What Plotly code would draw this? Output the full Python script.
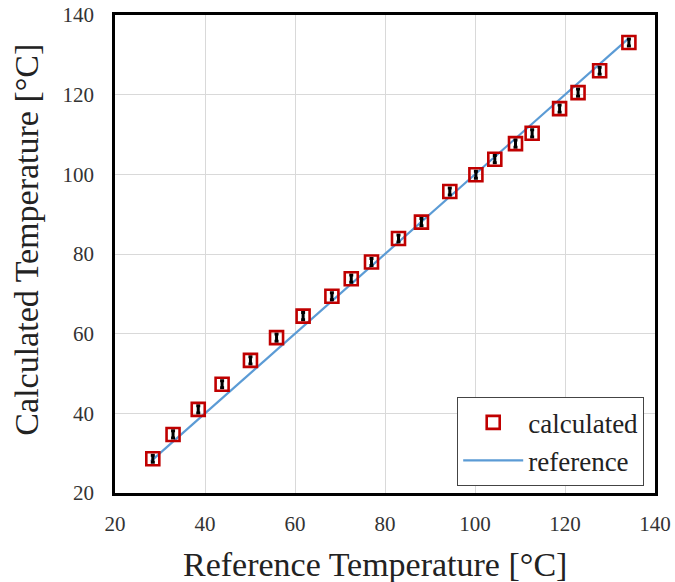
import plotly.graph_objects as go

# Reference vs. calculated temperatures (°C)
ref_temp = [28.4, 32.9, 38.5, 43.8, 50.1, 55.9, 61.8, 68.2, 72.5, 77.0, 83.0,
            88.1, 94.4, 100.2, 104.4, 109.0, 112.7, 118.8, 122.9, 127.7, 134.2]
calc_temp = [28.6, 34.7, 41.0, 47.3, 53.3, 59.0, 64.4, 69.4, 73.8, 78.0, 83.9,
             88.0, 95.7, 99.9, 103.8, 107.7, 110.3, 116.5, 120.5, 126.0, 133.1]
calc_err = [0.9] * len(ref_temp)

# Ideal y = x reference line
line_x = [28.0, 134.2]
line_y = [28.0, 134.2]

tick_vals = [20, 40, 60, 80, 100, 120, 140]

x_title = "Reference Temperature [°C]"
y_title = "Calculated Temperature [°C]"

FONT = "Liberation Serif"

fig = go.Figure()

fig.add_trace(go.Scatter(
    x=line_x, y=line_y, mode="lines", name="reference",
    line=dict(color="#5b9bd5", width=2.2),
))

fig.add_trace(go.Scatter(
    x=ref_temp, y=calc_temp, mode="markers", name="calculated",
    marker=dict(symbol="square-open", size=13, color="#c00000",
                line=dict(width=2.6, color="#c00000")),
    error_y=dict(type="data", array=calc_err, visible=True,
                 color="black", thickness=3, width=2),
))

axis_common = dict(
    range=[20, 140], tickvals=tick_vals, showgrid=True, automargin=False,
    gridcolor="#d9d9d9", gridwidth=1.2, zeroline=False,
    showline=True, linecolor="black", linewidth=2.5, mirror=True,
    ticks="", tickfont=dict(family=FONT, size=21, color="#333333"),
)

fig.update_xaxes(**axis_common, ticklabelstandoff=10)
fig.update_yaxes(**axis_common, ticklabelstandoff=14)

# Axis titles, placed slightly off-centre
title_font = dict(family=FONT, size=34, color="#222222")
fig.add_annotation(text=x_title, xref="paper", yref="paper",
                   x=0.4815, y=-0.149, xanchor="center", yanchor="middle",
                   showarrow=False, font=title_font)
fig.add_annotation(text=y_title, xref="paper", yref="paper",
                   x=-0.163, y=0.53, xanchor="center", yanchor="middle",
                   textangle=-90, showarrow=False, font=title_font)

fig.update_layout(
    width=675, height=582,
    margin=dict(l=115, r=20, t=15, b=89),
    paper_bgcolor="white", plot_bgcolor="white",
    showlegend=True,
    legend=dict(
        x=0.98, y=0.014, xanchor="right", yanchor="bottom",
        traceorder="reversed",
        bgcolor="white", bordercolor="#444444", borderwidth=1,
        font=dict(family=FONT, size=27, color="#222222"),
        itemwidth=60,
    ),
)

fig.write_html("out.html")
